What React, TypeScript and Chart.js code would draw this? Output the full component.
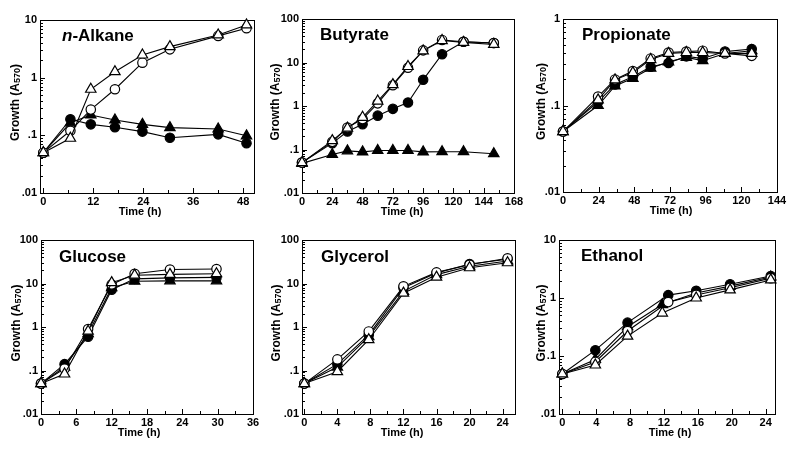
import React, { useEffect, useRef } from "react";
import { Chart, registerables } from "chart.js";

Chart.register(...registerables);

// ---------- DATA ----------
const logTickValues = [0.01, 0.1, 1, 10, 100];
const logTickLabels = [".01", ".1", "1", "10", "100"];

// n-Alkane
const alkaneTime = [0, 6.5, 11.4, 17.2, 23.8, 30.4, 42, 48.8];
const alkaneOpenCircle = [0.05, 0.12, 0.28, 0.63, 1.82, 3.1, 5.3, 7.2];
const alkaneFilledCircle = [0.05, 0.19, 0.155, 0.138, 0.116, 0.091, 0.104, 0.073];
const alkaneOpenTriangle = [0.05, 0.089, 0.63, 1.27, 2.47, 3.45, 5.5, 8.2];
const alkaneFilledTriangle = [0.05, 0.165, 0.225, 0.185, 0.155, 0.136, 0.129, 0.098];
const alkaneXTicks = [0, 12, 24, 36, 48];

// Butyrate
const butyrateTime = [0, 24, 36, 48, 60, 72, 84, 96, 111, 128, 152];
const butyrateOpenCircle = [0.05, 0.15, 0.32, 0.5, 1.15, 3.0, 7.6, 19, 33, 30, 28];
const butyrateFilledCircle = [0.05, 0.14, 0.26, 0.38, 0.6, 0.86, 1.2, 4.0, 15.5, 30, 28];
const butyrateOpenTriangle = [0.05, 0.16, 0.31, 0.55, 1.3, 3.1, 8.1, 18.5, 32, 29, 26];
const butyrateFilledTriangle = [0.048, 0.077, 0.093, 0.088, 0.095, 0.095, 0.095, 0.088, 0.089, 0.089, 0.08];
const butyrateXTicks = [0, 24, 48, 72, 96, 120, 144, 168];

// Propionate
const propionateTime = [0, 23.6, 35, 47, 59, 71, 83, 94, 109, 127];
const propionateOpenCircle = [0.05, 0.127, 0.2, 0.25, 0.35, 0.41, 0.42, 0.43, 0.4, 0.375];
const propionateFilledCircle = [0.05, 0.11, 0.175, 0.215, 0.28, 0.31, 0.37, 0.35, 0.42, 0.45];
const propionateOpenTriangle = [0.05, 0.116, 0.198, 0.24, 0.34, 0.4, 0.41, 0.41, 0.4, 0.4];
const propionateFilledTriangle = [0.05, 0.1, 0.168, 0.206, 0.27, 0.32, 0.36, 0.33, 0.4, 0.43];
const propionateXTicks = [0, 24, 48, 72, 96, 120, 144];

// Glucose
const glucoseTime = [0, 4, 8, 12, 15.9, 21.9, 29.8];
const glucoseOpenCircle = [0.05, 0.11, 0.9, 9.5, 16.7, 21, 21.5];
const glucoseFilledCircle = [0.05, 0.14, 0.6, 7.2, 12.8, 13.5, 13.8];
const glucoseOpenTriangle = [0.05, 0.083, 0.8, 10.5, 15.5, 16.2, 16.8];
const glucoseFilledTriangle = [0.05, 0.12, 0.7, 8, 11.3, 11.5, 11.5];
const glucoseXTicks = [0, 6, 12, 18, 24, 30, 36];

// Glycerol
const glycerolTime = [0, 4, 7.8, 12, 16, 20, 24.6];
const glycerolOpenCircle = [0.05, 0.18, 0.79, 8.6, 18, 27, 38];
const glycerolFilledCircle = [0.05, 0.14, 0.66, 8, 17.5, 28, 36];
const glycerolOpenTriangle = [0.05, 0.094, 0.51, 6.0, 14, 23, 30];
const glycerolFilledTriangle = [0.05, 0.12, 0.6, 6.6, 16, 25, 33];
const glycerolXTicks = [0, 4, 8, 12, 16, 20, 24];

// Ethanol
const ethanolTimeCircle = [0, 3.9, 7.7, 12.5, 15.8, 19.8, 24.6];
const ethanolTimeTriangle = [0, 3.9, 7.7, 11.8, 15.8, 19.8, 24.6];
const ethanolOpenCircle = [0.049, 0.079, 0.27, 0.85, 1.13, 1.5, 2.2];
const ethanolFilledCircle = [0.049, 0.126, 0.376, 1.12, 1.33, 1.73, 2.4];
const ethanolOpenTriangle = [0.049, 0.07, 0.22, 0.55, 1.0, 1.38, 2.05];
const ethanolFilledTriangle = [0.049, 0.087, 0.32, 0.77, 1.22, 1.6, 2.3];
const ethanolXTicks = [0, 4, 8, 12, 16, 20, 24];

// ---------- LAYOUT ----------
const FONT = "'Liberation Sans', Arial, Helvetica, sans-serif";
const ML = 40;
const MT = 12;
const MR = 14;
const MB = 36;

type Series = { x: number[]; y: number[]; style: "circle" | "triangle"; filled: boolean };
type PanelCfg = {
  title: string;
  italicPrefix?: string;
  box: { l: number; t: number; r: number; b: number };
  xMin: number;
  xMax: number;
  yMin: number;
  yMax: number;
  xTicks: number[];
  series: Series[];
  titleDx: number;
  titleDy: number;
  yTitleX: number;
  xTitleX: number;
};

function mk(time: number[], oc: number[], fc: number[], ot: number[], ft: number[], timeTri?: number[]): Series[] {
  const tt = timeTri || time;
  return [
    { x: tt, y: ot, style: "triangle", filled: false },
    { x: time, y: oc, style: "circle", filled: false },
    { x: tt, y: ft, style: "triangle", filled: true },
    { x: time, y: fc, style: "circle", filled: true },
  ];
}

const panels: PanelCfg[] = [
  {
    title: "-Alkane", italicPrefix: "n",
    box: { l: 40, t: 20, r: 254, b: 193 }, xMin: -0.8, xMax: 50.6, yMin: 0.01, yMax: 10,
    xTicks: alkaneXTicks,
    series: mk(alkaneTime, alkaneOpenCircle, alkaneFilledCircle, alkaneOpenTriangle, alkaneFilledTriangle),
    titleDx: 22, titleDy: 21, yTitleX: 16, xTitleX: 140,
  },
  {
    title: "Butyrate",
    box: { l: 302, t: 19, r: 514, b: 193 }, xMin: 0, xMax: 168, yMin: 0.01, yMax: 100,
    xTicks: butyrateXTicks,
    series: mk(butyrateTime, butyrateOpenCircle, butyrateFilledCircle, butyrateOpenTriangle, butyrateFilledTriangle),
    titleDx: 18, titleDy: 21, yTitleX: 276, xTitleX: 402,
  },
  {
    title: "Propionate",
    box: { l: 563, t: 19, r: 777, b: 192 }, xMin: 0, xMax: 144, yMin: 0.01, yMax: 1,
    xTicks: propionateXTicks,
    series: mk(propionateTime, propionateOpenCircle, propionateFilledCircle, propionateOpenTriangle, propionateFilledTriangle),
    titleDx: 19, titleDy: 21, yTitleX: 542, xTitleX: 671,
  },
  {
    title: "Glucose",
    box: { l: 41, t: 240, r: 253, b: 414 }, xMin: 0, xMax: 36, yMin: 0.01, yMax: 100,
    xTicks: glucoseXTicks,
    series: mk(glucoseTime, glucoseOpenCircle, glucoseFilledCircle, glucoseOpenTriangle, glucoseFilledTriangle),
    titleDx: 18, titleDy: 22, yTitleX: 17, xTitleX: 139,
  },
  {
    title: "Glycerol",
    box: { l: 302, t: 240, r: 515, b: 414 }, xMin: -0.28, xMax: 25.5, yMin: 0.01, yMax: 100,
    xTicks: glycerolXTicks,
    series: mk(glycerolTime, glycerolOpenCircle, glycerolFilledCircle, glycerolOpenTriangle, glycerolFilledTriangle),
    titleDx: 19, titleDy: 22, yTitleX: 277, xTitleX: 402,
  },
  {
    title: "Ethanol",
    box: { l: 559, t: 240, r: 775, b: 414 }, xMin: -0.39, xMax: 25.1, yMin: 0.01, yMax: 10,
    xTicks: ethanolXTicks,
    series: mk(ethanolTimeCircle, ethanolOpenCircle, ethanolFilledCircle, ethanolOpenTriangle, ethanolFilledTriangle, ethanolTimeTriangle),
    titleDx: 22, titleDy: 21, yTitleX: 542, xTitleX: 670,
  },
];

function framePlugin(cfg: PanelCfg) {
  return {
    id: "frame",
    beforeDatasetsDraw(chart: any) {
      const { ctx, chartArea: ca, scales } = chart;
      const xs = scales.x;
      const ys = scales.y;
      ctx.save();
      ctx.strokeStyle = "#000";
      ctx.lineWidth = 1;
      ctx.strokeRect(ca.left + 0.5, ca.top + 0.5, ca.right - ca.left, ca.bottom - ca.top);
      // y ticks inward
      ctx.beginPath();
      const k0 = Math.round(Math.log10(cfg.yMin));
      const k1 = Math.round(Math.log10(cfg.yMax));
      for (let k = k0; k <= k1; k++) {
        for (let m = 1; m <= 9; m++) {
          const v = m * Math.pow(10, k);
          if (v < cfg.yMin * 0.999 || v > cfg.yMax * 1.001) continue;
          const py = Math.round(ys.getPixelForValue(v)) + 0.5;
          const len = m === 1 ? 5 : 3;
          ctx.moveTo(ca.left, py);
          ctx.lineTo(ca.left + len, py);
        }
      }
      // x ticks inward
      const xt = cfg.xTicks;
      for (let i = 0; i < xt.length; i++) {
        const px = Math.round(xs.getPixelForValue(xt[i])) + 0.5;
        ctx.moveTo(px, ca.bottom);
        ctx.lineTo(px, ca.bottom - 5);
        if (i < xt.length - 1) {
          const mx = Math.round(xs.getPixelForValue((xt[i] + xt[i + 1]) / 2)) + 0.5;
          ctx.moveTo(mx, ca.bottom);
          ctx.lineTo(mx, ca.bottom - 3);
        }
      }
      ctx.stroke();

      // panel title
      ctx.fillStyle = "#000";
      ctx.textBaseline = "alphabetic";
      ctx.textAlign = "left";
      let tx = ca.left + cfg.titleDx;
      const ty = ca.top + cfg.titleDy;
      if (cfg.italicPrefix) {
        ctx.font = `italic bold 17px ${FONT}`;
        ctx.fillText(cfg.italicPrefix, tx, ty);
        tx += ctx.measureText(cfg.italicPrefix).width;
      }
      ctx.font = `bold 17px ${FONT}`;
      ctx.fillText(cfg.title, tx, ty);

      // x title
      ctx.font = `bold 11px ${FONT}`;
      ctx.textAlign = "center";
      ctx.textBaseline = "middle";
      const canvasLeft = cfg.box.l - ML;
      ctx.fillText("Time (h)", cfg.xTitleX - canvasLeft, ca.bottom + 19);

      // y title with subscript
      const p1 = "Growth (A";
      const p2 = "570";
      const p3 = ")";
      ctx.textAlign = "left";
      ctx.textBaseline = "middle";
      ctx.font = `bold 12px ${FONT}`;
      const w1 = ctx.measureText(p1).width;
      const w3 = ctx.measureText(p3).width;
      ctx.font = `bold 9px ${FONT}`;
      const w2 = ctx.measureText(p2).width;
      const total = w1 + w2 + w3;
      const cy = (ca.top + ca.bottom) / 2 - 4;
      ctx.translate(cfg.yTitleX - canvasLeft, cy);
      ctx.rotate(-Math.PI / 2);
      let sx = -total / 2;
      ctx.font = `bold 12px ${FONT}`;
      ctx.fillText(p1, sx, 0);
      sx += w1;
      ctx.font = `bold 9px ${FONT}`;
      ctx.fillText(p2, sx, 1.5);
      sx += w2;
      ctx.font = `bold 12px ${FONT}`;
      ctx.fillText(p3, sx, 0);
      ctx.restore();
    },
  };
}

function Panel({ cfg }: { cfg: PanelCfg }) {
  const ref = useRef<HTMLCanvasElement>(null);
  const W = cfg.box.r - cfg.box.l + ML + MR;
  const H = cfg.box.b - cfg.box.t + MT + MB;
  useEffect(() => {
    if (!ref.current) return;
    const tickFont = { family: FONT, size: 11, weight: "bold" as const };
    const chart = new Chart(ref.current, {
      type: "line",
      data: {
        datasets: cfg.series.map((s, i) => ({
          label: "s" + i,
          data: s.x.map((x, j) => ({ x, y: s.y[j] })),
          borderColor: "#000",
          borderWidth: 1.1,
          tension: 0,
          fill: false,
          clip: false as any,
          pointStyle: s.style,
          pointRadius: s.style === "circle" ? 4.7 : 6,
          pointBackgroundColor: s.filled ? "#000" : "#fff",
          pointBorderColor: "#000",
          pointBorderWidth: 1.2,
          pointHoverRadius: s.style === "circle" ? 4.7 : 6,
        })),
      },
      options: {
        responsive: false,
        animation: false,
        devicePixelRatio: 1,
        events: [],
        layout: { padding: { left: 0, top: MT, right: MR, bottom: 0 } },
        plugins: {
          legend: { display: false },
          tooltip: { enabled: false },
          title: { display: false },
        },
        scales: {
          x: {
            type: "linear",
            min: cfg.xMin,
            max: cfg.xMax,
            afterBuildTicks: (s: any) => {
              s.ticks = cfg.xTicks.map((v) => ({ value: v }));
            },
            afterFit: (s: any) => {
              s.height = MB;
            },
            grid: { display: false, drawTicks: false },
            border: { display: false },
            ticks: {
              font: tickFont,
              color: "#000",
              padding: 2,
              maxRotation: 0,
              autoSkip: false,
              callback: (v: any) => String(v),
            },
          },
          y: {
            type: "logarithmic",
            min: cfg.yMin,
            max: cfg.yMax,
            afterBuildTicks: (s: any) => {
              s.ticks = logTickValues
                .filter((v) => v >= cfg.yMin * 0.999 && v <= cfg.yMax * 1.001)
                .map((v) => ({ value: v }));
            },
            afterFit: (s: any) => {
              s.width = ML;
            },
            grid: { display: false, drawTicks: false },
            border: { display: false },
            ticks: {
              font: tickFont,
              color: "#000",
              padding: 3,
              autoSkip: false,
              callback: (v: any) => {
                const i = logTickValues.findIndex((t) => Math.abs(t - Number(v)) / t < 1e-6);
                return i >= 0 ? logTickLabels[i] : "";
              },
            },
          },
        },
      },
      plugins: [framePlugin(cfg)],
    });
    return () => chart.destroy();
  }, []);
  return (
    <canvas
      ref={ref}
      width={W}
      height={H}
      style={{ position: "absolute", left: cfg.box.l - ML, top: cfg.box.t - MT, width: W, height: H }}
    />
  );
}

export default function App() {
  return (
    <div style={{ position: "absolute", left: 0, top: 0, width: 800, height: 449, background: "#fff", overflow: "hidden" }}>
      {panels.map((p, i) => (
        <Panel key={i} cfg={p} />
      ))}
    </div>
  );
}
